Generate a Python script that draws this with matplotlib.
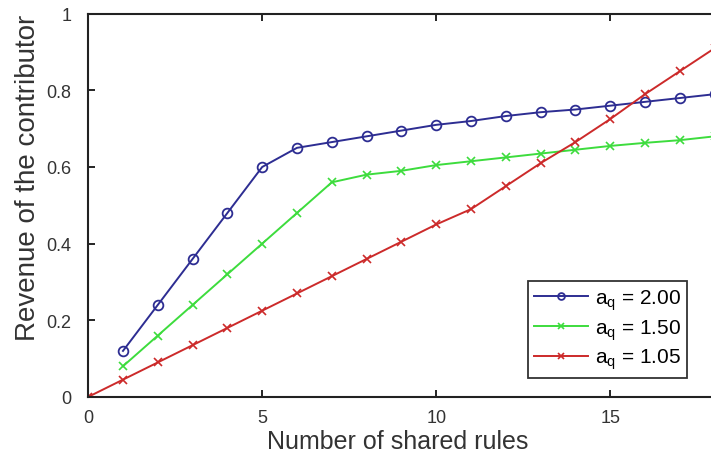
import matplotlib.pyplot as plt

plt.rcParams['font.family'] = ['Liberation Sans', 'DejaVu Sans']
plt.rcParams['mathtext.fontset'] = 'custom'
plt.rcParams['mathtext.rm'] = 'Liberation Sans'
plt.rcParams['mathtext.it'] = 'Liberation Sans'

x_blue = [1, 2, 3, 4, 5, 6, 7, 8, 9, 10, 11, 12, 13, 14, 15, 16, 17, 18]
y_blue = [0.12, 0.24, 0.36, 0.48, 0.60, 0.65, 0.665, 0.68, 0.695, 0.71, 0.72,
          0.733, 0.743, 0.75, 0.76, 0.77, 0.78, 0.79]
x_green = [1, 2, 3, 4, 5, 6, 7, 8, 9, 10, 11, 12, 13, 14, 15, 16, 17, 18]
y_green = [0.08, 0.16, 0.24, 0.32, 0.40, 0.48, 0.56, 0.58, 0.59, 0.605, 0.615,
           0.625, 0.635, 0.645, 0.655, 0.663, 0.67, 0.68]
x_red = [0, 1, 2, 3, 4, 5, 6, 7, 8, 9, 10, 11, 12, 13, 14, 15, 16, 17, 18]
y_red = [0.0, 0.045, 0.09, 0.135, 0.18, 0.225, 0.27, 0.315, 0.36, 0.405, 0.45,
         0.49, 0.55, 0.61, 0.665, 0.725, 0.79, 0.85, 0.91]
labels = [r'$a_q$ = 2.00', r'$a_q$ = 1.50', r'$a_q$ = 1.05']
xtick_vals = [0, 5, 10, 15]
ytick_vals = [0, 0.2, 0.4, 0.6, 0.8, 1]
ytick_text = ['0', '0.2', '0.4', '0.6', '0.8', '1']

fig = plt.figure(figsize=(7.11, 4.6), dpi=100)
# axes run to x=20, the right part falls outside the picture as in the reference
ax = fig.add_axes([0.124, 0.135, 0.979, 0.833])

ax.plot(x_blue, y_blue, color='#2d2d92', marker='o', mfc='none', ms=7, mew=1.3, lw=1.4, label=labels[0])
ax.plot(x_green, y_green, color='#3ddc3d', marker='x', ms=6, mew=1.2, lw=1.4, label=labels[1])
ax.plot(x_red, y_red, color='#cc2a2a', marker='x', ms=6, mew=1.2, lw=1.4, label=labels[2])

ax.set_xlim(0, 20)
ax.set_ylim(0, 1)
ax.set_xticks(xtick_vals)
ax.set_yticks(ytick_vals)
ax.set_yticklabels(ytick_text)
ax.tick_params(direction='in', top=True, right=True, labelsize=13, length=5, width=1.2,
               labelcolor='#333333')
ax.tick_params(axis='x', pad=9)
ax.tick_params(axis='y', pad=12)
for s in ax.spines.values():
    s.set_linewidth(1.5)
    s.set_color('#222222')

ax.set_xlabel('Number of shared rules', fontsize=18, labelpad=2, x=0.445, color='#333333')
ax.set_ylabel('Revenue of the contributor', fontsize=20, labelpad=4, y=0.574, color='#333333')

leg = ax.legend(loc='lower left', bbox_to_anchor=(0.632, 0.05), fontsize=15,
                frameon=True, fancybox=False, edgecolor='black', handlelength=2.6,
                borderpad=0.3, labelspacing=0.25, handletextpad=0.3, borderaxespad=0,
                markerscale=0.7)
leg.get_frame().set_linewidth(1.3)

fig.savefig('out.png', dpi=100)
